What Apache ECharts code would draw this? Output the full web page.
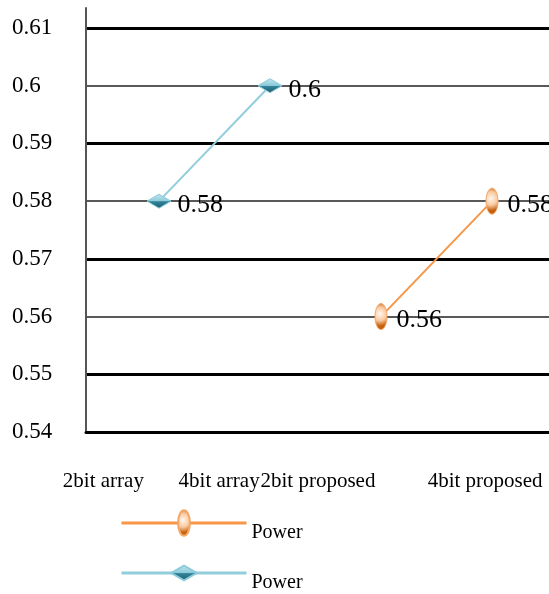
<!DOCTYPE html>
<html>
<head>
<meta charset="utf-8">
<script src="https://cdn.jsdelivr.net/npm/echarts@6/dist/echarts.min.js"></script>
<style>html,body{margin:0;padding:0;background:#fff;}#c{width:549px;height:594px;}</style>
</head>
<body>
<div id="c"></div>
<script>
// ---- data ----
const categories = ['2bit array', '4bit array', '2bit proposed', '4bit proposed'];
const arrayPower = [0.58, 0.6, null, null];
const proposedPower = [null, null, 0.56, 0.58];
const seriesNames = ['Power', 'Power '];   // proposed (orange), array (blue)
const yMin = 0.54, yMax = 0.61, yStep = 0.01;

// ---- layout ----
const W = 549, H = 594;
const axisX = 86, plotTop = 28, plotBottom = 432;
const unitPx = (plotBottom - plotTop) / (yMax - yMin);
const axisTopExtra = 20;
const seriesLeft = 103.5, seriesRight = 1.5;
const FONT = 'Liberation Serif';

// square-bounded marker shapes (leading moves set a square bounding box)
const ellipsePath = 'path://M0,0 M26,26 M13,0 C16.3,0 19,5.8 19,13 C19,20.2 16.3,26 13,26 C9.7,26 7,20.2 7,13 C7,5.8 9.7,0 13,0 Z';
const diamondPath = 'path://M0,0 M24,24 M12,5 L24,12 L12,19 L0,12 Z';

const chart = echarts.init(document.getElementById('c'), null, {renderer: 'canvas'});
const hidden = {show: false};

chart.setOption({
  backgroundColor: '#fff',
  animation: false,
  textStyle: {fontFamily: FONT},
  legend: {
    orient: 'vertical',
    left: 115, top: 498, height: 150,
    itemWidth: 125, itemHeight: 32, itemGap: 10,
    data: [seriesNames[0], seriesNames[1]],
    lineStyle: {width: 3},
    formatter: name => '\n' + name.trim(),
    textStyle: {fontFamily: FONT, fontSize: 20, lineHeight: 20, color: '#000'},
    selectedMode: false
  },
  grid: [
    {left: axisX, right: 0, top: plotTop, bottom: H - plotBottom},
    {left: seriesLeft, right: seriesRight, top: plotTop - axisTopExtra, bottom: H - plotBottom}
  ],
  xAxis: [
    {
      gridIndex: 0, type: 'category', boundaryGap: true,
      data: categories.map((c, i) => i === categories.length - 1
        ? {value: c, textStyle: {align: 'center', padding: [0, 12, 0, 0]}} : c),
      axisLine: {show: true, lineStyle: {color: '#000', width: 3}},
      axisTick: hidden,
      axisLabel: {interval: 0, align: 'right', margin: 39, fontFamily: FONT, fontSize: 21, color: '#000'},
      splitLine: hidden
    },
    {gridIndex: 1, type: 'category', boundaryGap: true, data: categories,
      axisLine: hidden, axisTick: hidden, axisLabel: hidden, splitLine: hidden}
  ],
  yAxis: [
    {
      gridIndex: 0, type: 'value', min: yMin, max: yMax, interval: yStep,
      axisLine: hidden, axisTick: hidden,
      axisLabel: {align: 'left', margin: axisX - 12, fontFamily: FONT, fontSize: 23, color: '#000',
        formatter: v => String(+v.toFixed(2))},
      splitLine: {show: true, lineStyle: {color: ['rgba(0,0,0,0)', '#000'], width: 3}}
    },
    {
      gridIndex: 0, type: 'value', position: 'left', min: yMin, max: yMax, interval: yStep,
      axisLine: hidden, axisTick: hidden, axisLabel: hidden,
      splitLine: {show: true, lineStyle: {color: ['#222', 'rgba(0,0,0,0)'], width: 1.5}}
    },
    {
      gridIndex: 1, type: 'value', position: 'left', offset: seriesLeft - axisX,
      min: yMin, max: yMax + axisTopExtra / unitPx,
      axisLine: {show: true, lineStyle: {color: '#555', width: 2}},
      axisTick: hidden, axisLabel: hidden, splitLine: hidden
    }
  ],
  series: [
    {
      name: seriesNames[0], type: 'line', xAxisIndex: 1, yAxisIndex: 2,
      data: proposedPower,
      symbol: ellipsePath, symbolSize: 26,
      lineStyle: {color: '#F79646', width: 2},
      itemStyle: {
        color: {type: 'radial', x: 0.46, y: 0.4, r: 0.45, colorStops: [
          {offset: 0, color: '#FFF6EE'}, {offset: 0.55, color: '#FAC9A0'}, {offset: 1, color: '#C5600C'}]},
        borderColor: '#F5A766', borderWidth: 1
      },
      label: {show: true, position: 'right', distance: 2, offset: [0, 4],
        fontFamily: FONT, fontSize: 26, color: '#000'},
      z: 3
    },
    {
      name: seriesNames[1], type: 'line', xAxisIndex: 1, yAxisIndex: 2,
      data: arrayPower,
      symbol: diamondPath, symbolSize: 24,
      lineStyle: {color: '#92CDDC', width: 2},
      itemStyle: {
        color: {type: 'linear', x: 0, y: 0, x2: 0, y2: 1, colorStops: [
          {offset: 0.2, color: '#C6E6EF'}, {offset: 0.49, color: '#8CCBDB'},
          {offset: 0.52, color: '#31859C'}, {offset: 0.8, color: '#1F5A6A'}]},
        borderColor: '#8CCBDB', borderWidth: 1
      },
      label: {show: true, position: 'right', distance: 6, offset: [0, 4],
        fontFamily: FONT, fontSize: 26, color: '#000'},
      z: 3
    }
  ]
});
</script>
</body>
</html>
